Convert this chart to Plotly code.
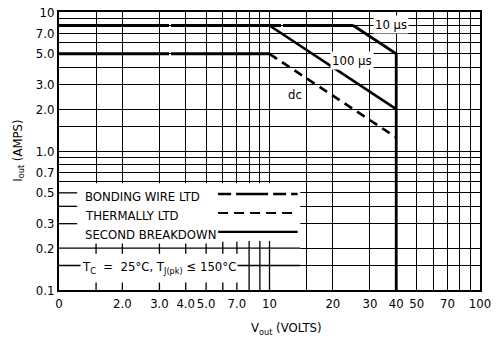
import numpy as np
import plotly.graph_objects as go

# ---- axis ticks / grid ----
x_ticks = [1, 1.5, 2, 3, 4, 5, 6, 7, 8, 9, 10, 15, 20, 30, 40, 50, 60, 70, 80, 90, 100]
x_labels = ["0", "", "2.0", "3.0", "4.0", "5.0", "", "7.0", "", "", "10", "", "20", "30", "40", "50", "", "70", "", "", "100"]
y_ticks = [0.1, 0.15, 0.2, 0.3, 0.4, 0.5, 0.6, 0.7, 0.8, 0.9, 1, 1.5, 2, 3, 4, 5, 6, 7, 8, 9, 10]
y_labels = ["0.1", "", "0.2", "0.3", "", "0.5", "", "0.7", "", "", "1.0", "", "2.0", "3.0", "", "5.0", "", "7.0", "", "", "10"]

# ---- SOA curves (Vout volts, Iout amps) ----
bond_hi_v = [1, 25]
bond_hi_i = [8.0, 8.0]
bond_lo_v = [1, 10]
bond_lo_i = [5.0, 5.0]
us10_v = [25, 40, 40]
us10_i = [8.0, 5.0, 0.1]
us100_v = [10, 40]
us100_i = [8.0, 2.0]
dc_v = [10, 40]
dc_i = [5.0, 1.25]

# ---- legend box furniture ----
box_v = [1, 14, 14, 1, 1]
box_i = [0.1, 0.1, 0.585, 0.585, 0.1]
stub_levels = [0.5, 0.4, 0.3]
stub_v = [1, 1.22]
inner_lines = [0.2, 0.15]
mid_tick_v = [1.5, 2, 3, 4, 5, 6, 7]
full_v = [8, 9, 10]
bot_tick_v = [1.5, 2, 3, 4, 5, 6, 7]
legend_names = ["BONDING WIRE LTD", "THERMALLY LTD", "SECOND BREAKDOWN"]
legend_i = [0.49, 0.358, 0.262]
legend_text_i = [0.47, 0.342, 0.25]
legend_v = [5.7, 13.6]

FONT = "Liberation Sans Narrow, DejaVu Sans Condensed, Arial Narrow, sans-serif"
K = "black"
NB = "\u00a0"

fig = go.Figure()

def line(xs, ys, width=1.3, dash="solid"):
    fig.add_trace(go.Scatter(x=xs, y=ys, mode="lines", hoverinfo="skip",
                             line=dict(color=K, width=width, dash=dash),
                             showlegend=False))

# white legend box covering grid
fig.add_trace(go.Scatter(x=box_v, y=box_i, mode="lines", fill="toself",
                         fillcolor="white", line=dict(width=0, color="white"),
                         hoverinfo="skip", showlegend=False))
for lv in stub_levels:
    line(stub_v, [lv, lv])
for lv in inner_lines:
    line([1, 14], [lv, lv])
for v in mid_tick_v:
    line([v, v], [0.182, 0.222])
for v in full_v:
    line([v, v], [0.1, 0.225])
for v in bot_tick_v:
    line([v, v], [0.1, 0.113])

# legend samples
line(legend_v, [legend_i[0]] * 2, width=2.6, dash="13px,5px,32px,5px")
line(legend_v, [legend_i[1]] * 2, width=2.2, dash="10px,6px")
line(legend_v, [legend_i[2]] * 2, width=2.2)

# curves
line(bond_hi_v, bond_hi_i, width=3, dash="110px,2px")
line(bond_lo_v, bond_lo_i, width=3, dash="110px,2px")
line(us10_v, us10_i, width=2.8)
line(us100_v, us100_i, width=2.6)
line(dc_v, dc_i, width=2.6, dash="9px,6px")

ann = []
def text(x, y, s, xanchor="left", bg=None, size=13):
    d = dict(x=np.log10(x), y=np.log10(y), xref="x", yref="y", text=s,
             showarrow=False, xanchor=xanchor, yanchor="middle",
             font=dict(family=FONT, size=size, color=K))
    if bg:
        d["bgcolor"] = bg
        d["borderpad"] = 1
    ann.append(d)

for name, ti in zip(legend_names, legend_text_i):
    text(1.3, ti, name, bg="white")
text(1.26, 0.145, f"T<sub>C</sub>{NB}{NB}={NB}{NB}25°C, T<sub>J(pk)</sub>{NB}≤{NB}150°C", bg="white")
text(31, 8.1, "10 μs", bg="white")
text(19.4, 4.5, "100 μs", bg="white")
text(12.0, 2.55, "dc", bg="white")

ann.append(dict(x=-0.098, y=0.5, xref="paper", yref="paper", text="I<sub>out</sub> (AMPS)",
                textangle=-90, xanchor="center", yanchor="middle", showarrow=False,
                font=dict(family=FONT, size=13, color=K)))
ann.append(dict(x=0.54, y=-0.10, xref="paper", yref="paper", text="V<sub>out</sub> (VOLTS)",
                showarrow=False, yanchor="top", font=dict(family=FONT, size=13, color=K)))

fig.update_layout(
    width=497, height=338,
    margin=dict(l=59, r=17, t=12, b=48),
    paper_bgcolor="white", plot_bgcolor="white",
    annotations=ann,
    xaxis=dict(type="log", range=[0, 2], tickvals=x_ticks, ticktext=x_labels,
               tickangle=0, automargin=False,
               showgrid=True, gridcolor=K, gridwidth=1.3, ticks="",
               showline=True, linecolor=K, linewidth=2, mirror=True,
               zeroline=False, tickfont=dict(family=FONT, size=13, color=K)),
    yaxis=dict(type="log", range=[-1, 1], tickvals=y_ticks, ticktext=y_labels,
               automargin=False,
               showgrid=True, gridcolor=K, gridwidth=1.3, ticks="",
               showline=True, linecolor=K, linewidth=2, mirror=True,
               zeroline=False, tickfont=dict(family=FONT, size=13, color=K)),
)

fig.write_html("out.html", config={"displayModeBar": False},
               post_script="document.body.style.margin='0';")
